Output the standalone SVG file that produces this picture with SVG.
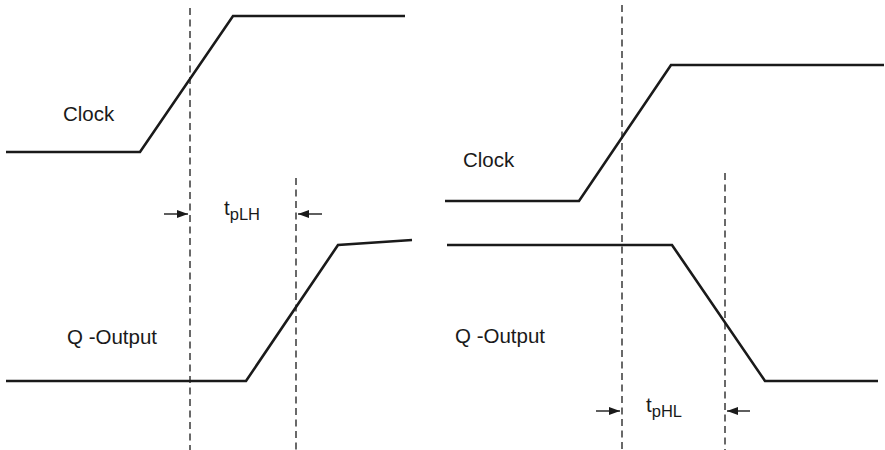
<svg xmlns="http://www.w3.org/2000/svg" width="885" height="450" viewBox="0 0 885 450">
<style>
.sig{fill:none;stroke:#1a1a1a;stroke-width:2.6;stroke-linejoin:miter}
.dash{fill:none;stroke:#1a1a1a;stroke-width:1.3;stroke-dasharray:7,4.5}
.arr{fill:none;stroke:#1a1a1a;stroke-width:1.4}
.lbl{font-family:"Liberation Sans",Arial,sans-serif;font-size:20.5px;fill:#1a1a1a}
.sub{font-size:16.5px}
</style>
<defs>
<marker id="ah" viewBox="0 0 11 8" refX="11" refY="4" markerWidth="11" markerHeight="8" markerUnits="userSpaceOnUse" orient="auto">
<path d="M0,0 L11,4 L0,8 Z" fill="#1a1a1a"/>
</marker>
</defs>
<rect width="885" height="450" fill="#fff"/>
<g id="left-clock"><polyline class="sig" points="6,152 140,152 233,16 405,16"/><text class="lbl" x="63" y="121">Clock</text></g>
<g id="left-q"><polyline class="sig" points="6,381 246,381 338,245 412,240"/><text class="lbl" x="67" y="344">Q -Output</text></g>
<g id="right-clock"><polyline class="sig" points="445,201 579,201 671,65 884,65"/><text class="lbl" x="463" y="167">Clock</text></g>
<g id="right-q"><polyline class="sig" points="447,245 672,245 765,381 878,381"/><text class="lbl" x="455" y="343">Q -Output</text></g>
<g id="connectors">
<line class="dash" x1="190" y1="8" x2="190" y2="450"/>
<line class="dash" x1="296" y1="178" x2="296" y2="450"/>
<line class="dash" x1="622" y1="5" x2="622" y2="450"/>
<line class="dash" x1="725" y1="173" x2="725" y2="450"/>
<line class="arr" x1="164" y1="214" x2="188" y2="214" marker-end="url(#ah)"/>
<line class="arr" x1="322" y1="214" x2="298" y2="214" marker-end="url(#ah)"/>
<line class="arr" x1="596" y1="411" x2="620" y2="411" marker-end="url(#ah)"/>
<line class="arr" x1="750" y1="411" x2="727" y2="411" marker-end="url(#ah)"/>
</g>
<g id="label-tplh"><text class="lbl" x="224" y="215">t<tspan class="sub" dy="5">pLH</tspan></text></g>
<g id="label-tphl"><text class="lbl" x="646" y="412">t<tspan class="sub" dy="5">pHL</tspan></text></g>
</svg>
